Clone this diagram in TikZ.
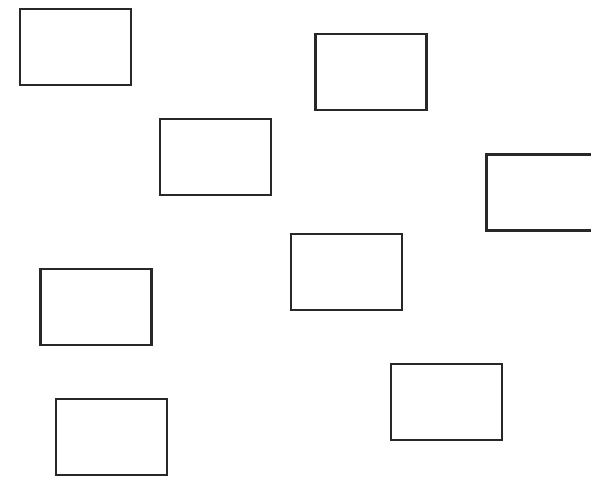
\documentclass[tikz,border=0pt]{standalone}
\usepackage{tikz}
\usepackage{xcolor}
\usetikzlibrary{positioning}
\definecolor{frameGray}{RGB}{40,40,40}

\begin{document}
\begin{tikzpicture}[x=0.025cm, y=-0.025cm,
    card/.style={draw=frameGray, line width=2.1pt, fill=white, inner sep=0pt,
        minimum width=2.775cm, minimum height=1.9cm}]
    \useasboundingbox (0,0) rectangle (591,481);
    \node[card] (cardA) at (75.5,47) {};
    \node[card] (cardB) at (371,72) {};
    \node[card] (cardC) at (215.5,157) {};
    \node[card] (cardD) at (542,192.5) {}; % runs off the right edge
    \node[card] (cardE) at (346.5,272) {};
    \node[card] (cardF) at (96,307) {};
    \node[card] (cardG) at (446.5,402) {};
    \node[card] (cardH) at (111.5,437) {};
\end{tikzpicture}
\end{document}
